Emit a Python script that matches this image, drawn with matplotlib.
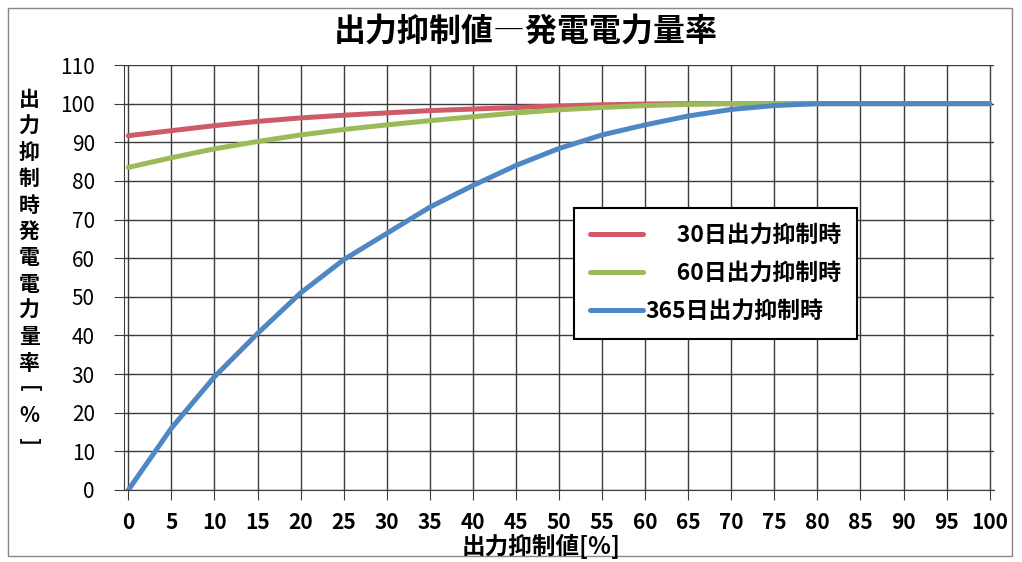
import matplotlib
matplotlib.use('Agg')
import matplotlib.pyplot as plt
from matplotlib.patches import Rectangle

plt.rcParams['font.family'] = ['Noto Sans CJK JP', 'DejaVu Sans']

# 出力抑制値 [%]
x_vals = [0, 5, 10, 15, 20, 25, 30, 35, 40, 45, 50, 55, 60, 65, 70, 75, 80, 85, 90, 95, 100]
# 発電電力量率 [%]
r30 = [91.7, 93.0, 94.3, 95.4, 96.3, 97.0, 97.6, 98.2, 98.6, 99.0, 99.4, 99.7, 99.9, 100, 100,
       100, 100, 100, 100, 100, 100]
g60 = [83.5, 86.0, 88.3, 90.2, 91.9, 93.3, 94.5, 95.6, 96.6, 97.6, 98.4, 99.0, 99.5, 99.8, 100,
       100, 100, 100, 100, 100, 100]
b365 = [0, 16.0, 29.3, 40.5, 51.0, 59.6, 66.4, 73.2, 78.8, 84.0, 88.4, 91.9, 94.5, 96.8, 98.5,
        99.5, 100, 100, 100, 100, 100]

labels = ['\u2007\u200730日出力抑制時', '\u2007\u200760日出力抑制時', '365日出力抑制時']
colors = ['#cf5a6a', '#9bbb59', '#4f87c4']

fig = plt.figure(figsize=(10.22, 5.62), dpi=100)
ax = fig.add_axes([124/1022, 1 - 490/562, 870/1022, 425/562])

for ys, lab, c in zip([r30, g60, b365], labels, colors):
    ax.plot(x_vals, ys, color=c, lw=3.6, label=lab, solid_capstyle='round')

ax.set_xlim(-0.5, 100.5)
ax.set_ylim(0, 110)
ax.set_xticks(range(0, 101, 5))
ax.set_yticks(range(0, 111, 10))
ax.grid(True, color='#3c3c3c', lw=1.0)
ax.set_axisbelow(True)
for s in ['top', 'right']:
    ax.spines[s].set_visible(False)
ax.spines['left'].set_color('#3c3c3c')
ax.spines['bottom'].set_color('#3c3c3c')
ax.tick_params(axis='both', direction='out', length=7, color='#3c3c3c')
ax.tick_params(axis='y', labelsize=15, pad=14)
ax.tick_params(axis='x', labelsize=15, pad=9)
for t in ax.get_xticklabels():
    t.set_fontweight('bold')

leg = ax.legend(loc='center', bbox_to_anchor=(0.68, 0.51),
                prop={'family': ['Noto Sans CJK JP', 'DejaVu Sans'], 'weight': 'bold', 'size': 16.5},
                frameon=True, fancybox=False, handlelength=2.3, handletextpad=0.1,
                labelspacing=0.65, borderpad=0.7, borderaxespad=0)
leg.get_frame().set_edgecolor('black')
leg.get_frame().set_linewidth(1.5)
leg.get_frame().set_alpha(1)

fig.text(526/1022, 1 - 32/562, '出力抑制値―発電電力量率', ha='center', va='center',
         fontsize=23, fontweight='bold')
fig.text(541/1022, 1 - 547/562, '出力抑制値[%]', ha='center', va='center',
         fontsize=17, fontweight='bold')

# 縦書きの軸ラベル(1文字ずつ)
ylab_chars = ['出', '力', '抑', '制', '時', '発', '電', '電', '力', '量', '率', '[', '%', ']']
for i, ch in enumerate(ylab_chars):
    rot = -90 if ch in '[]' else 0
    fig.text(29/1022, 1 - (100 + i * 26.3)/562, ch, ha='center', va='center',
             fontsize=15, fontweight='bold', rotation=rot)

fig.patches.append(Rectangle((8/1022, 6/562), 1004/1022, 548/562, transform=fig.transFigure,
                             fill=False, edgecolor='#888888', lw=1.0))

fig.savefig('out.png', dpi=100)
